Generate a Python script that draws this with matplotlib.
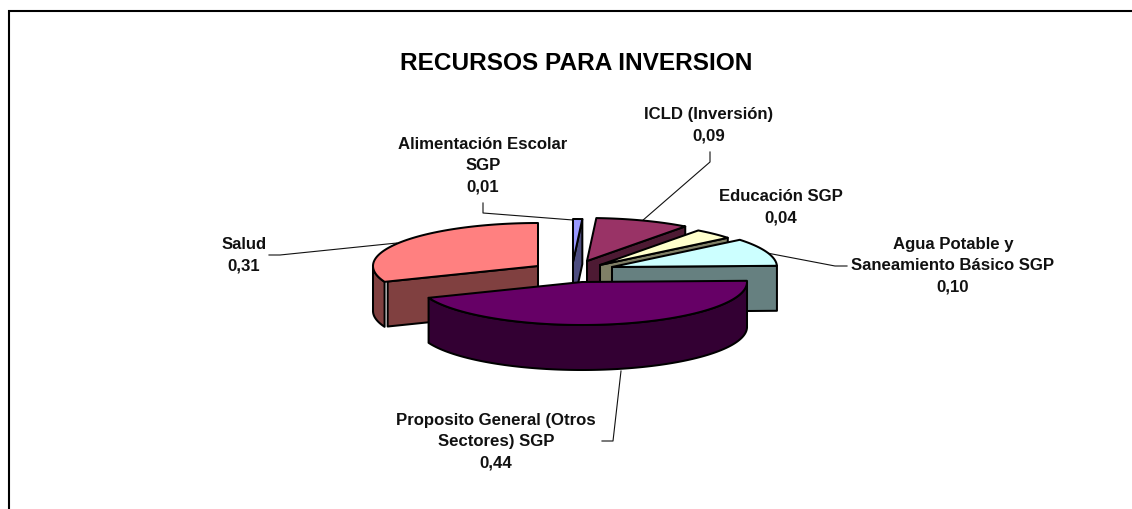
import numpy as np
import matplotlib
matplotlib.use("Agg")
import matplotlib.pyplot as plt
from matplotlib.patches import Polygon

title = "RECURSOS PARA INVERSION"
categories = ["Alimentación Escolar\nSGP", "ICLD (Inversión)", "Educación SGP",
              "Agua Potable y\nSaneamiento Básico SGP",
              "Proposito General (Otros\nSectores) SGP", "Salud"]
values = [0.009, 0.0925, 0.0395, 0.1045, 0.4445, 0.31]

top_colors = ["#9999FF", "#993366", "#FFFFCC", "#CCFFFF", "#660066", "#FF8080"]
side_colors = ["#4D4D80", "#4D1A33", "#808066", "#668080", "#330033", "#804040"]

# exploded slice apexes in pixels
apex = [(573, 263), (587, 262), (600, 266), (612, 268), (582, 283), (538, 267)]
paint_order = [5, 0, 1, 2, 3, 4]
label_pos = [(483, 166), (709, 125), (781, 207), (953, 266), (496, 442), (244, 255)]
leaders = [[(483, 204), (483, 214), (573, 221)],
           [(710, 153), (710, 163), (642, 222)],
           None,
           [(847, 267), (835, 267), (767, 254)],
           [(602, 442), (613, 442), (621, 372)],
           [(269, 256), (280, 256), (397, 244)]]
A, B, H = 165, 43, 45
EC = "black"
LW = 1.45

fig = plt.figure(figsize=(11.32, 5.10), dpi=100)
ax = fig.add_axes([0, 0, 1, 1])
ax.set_xlim(0, 1132)
ax.set_ylim(510, 0)
ax.axis("off")


def pt(c, deg, h=0.0, r=1.0):
    t = np.radians(deg)
    return c[0] + r * A * np.sin(t), c[1] - r * B * np.cos(t) + h


def arc(c, a0, a1, h=0.0):
    ts = np.linspace(a0, a1, max(2, int(abs(a1 - a0)) + 2))
    return [pt(c, t, h) for t in ts]


def poly(points, fc, z):
    ax.add_patch(Polygon(points, closed=True, fc=fc, ec=EC, lw=LW, joinstyle="round", zorder=z))


fractions = np.array(values) / np.sum(values)
edges = np.concatenate([[0], np.cumsum(fractions)]) * 360

for rank, i in enumerate(paint_order):
    c = apex[i]
    a0, a1 = edges[i], edges[i + 1]
    z = 10 + rank * 3
    if a0 > 180:
        r = 0.98
        p = pt(c, a0, 0, r)
        q = pt(c, a0, H, r)
        poly([c, p, q, (c[0], c[1] + H)], side_colors[i], z)
    if a1 < 180:
        p = pt(c, a1)
        q = pt(c, a1, H)
        poly([c, p, q, (c[0], c[1] + H)], side_colors[i], z)
    lo, hi = max(a0, 90), min(a1, 270)
    if hi > lo:
        poly(arc(c, lo, hi) + arc(c, hi, lo, H), side_colors[i], z + 1)
    poly([c] + arc(c, a0, a1), top_colors[i], z + 2)

for path in leaders:
    if path:
        xs, ys = zip(*path)
        ax.plot(xs, ys, color="#111111", lw=0.8, zorder=5)

FONT = ["Liberation Sans", "DejaVu Sans"]
ax.text(576, 63, title, ha="center", va="center", fontsize=17.6, fontweight="bold",
        family=FONT, color="black")
for name, v, (x, y) in zip(categories, values, label_pos):
    txt = f"{name}\n{v:.2f}".replace("0.", "0,")
    ax.text(x, y, txt, ha="center", va="center", multialignment="center", fontsize=12.1,
            fontweight="bold", family=FONT, linespacing=1.52, color="#111111", zorder=40)

ax.plot([9, 9, 1132], [510, 12, 12], color="black", lw=1.5, solid_joinstyle="miter",
        solid_capstyle="butt", zorder=50)

fig.savefig("out.png", dpi=100, facecolor="white")
